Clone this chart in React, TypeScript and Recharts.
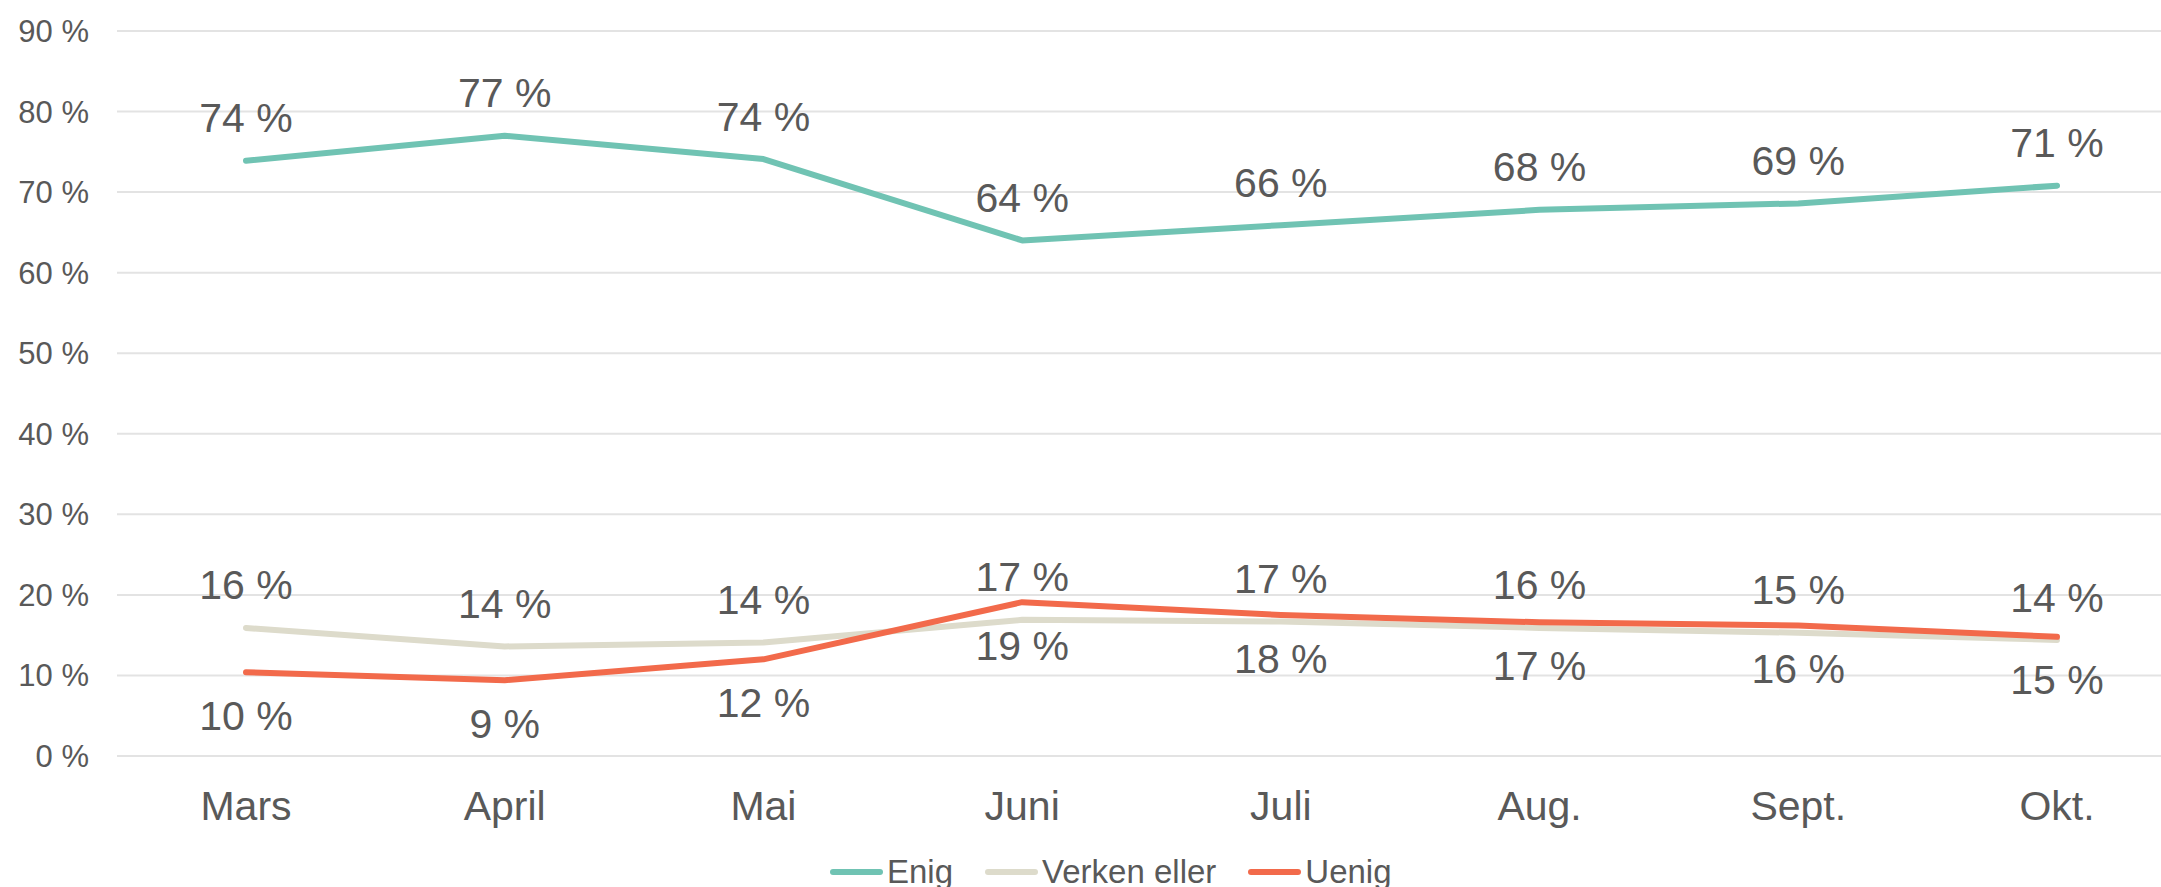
import { LineChart, Line, XAxis, YAxis, CartesianGrid } from "recharts";

const months = ["Mars", "April", "Mai", "Juni", "Juli", "Aug.", "Sept.", "Okt."];
const enig = [73.9, 77.0, 74.1, 64.0, 65.9, 67.8, 68.6, 70.8];
const verken = [15.9, 13.6, 14.1, 16.9, 16.7, 15.9, 15.3, 14.4];
const uenig = [10.4, 9.4, 12.0, 19.1, 17.5, 16.6, 16.2, 14.8];
const yTicks = [0, 10, 20, 30, 40, 50, 60, 70, 80, 90];

const series = [
  { key: "enig", name: "Enig", color: "#70C3B3", above: true },
  { key: "verken", name: "Verken eller", color: "#DDDBCB", above: true },
  { key: "uenig", name: "Uenig", color: "#F26A4B", above: false },
];

const data = months.map((m, i) => ({
  month: m,
  enig: enig[i],
  verken: verken[i],
  uenig: uenig[i],
}));

const FONT = "'Liberation Sans', Arial, sans-serif";
const TEXT = "#595959";

const makeLabel = (above: boolean) => (props: any) => {
  const { x, y, value } = props;
  const cy = above ? y - 43 : y + 43;
  return (
    <text
      x={x}
      y={cy}
      dy="0.355em"
      textAnchor="middle"
      fill={TEXT}
      fontSize={41}
      fontFamily={FONT}
    >
      {Math.round(value)} %
    </text>
  );
};

const App = () => {
  return (
    <div style={{ position: "absolute", left: 0, top: 0, width: 2161, height: 887, background: "#fff" }}>
      <LineChart
        width={2161}
        height={887}
        data={data}
        margin={{ top: 31, right: 0, bottom: 0, left: 0 }}
      >
        <CartesianGrid vertical={false} stroke="#E3E3E3" strokeWidth={2} />
        <XAxis
          dataKey="month"
          height={131}
          axisLine={false}
          tickLine={false}
          padding={{ left: 129, right: 104 }}
          tickMargin={29}
          tick={{ fill: TEXT, fontSize: 41, fontFamily: FONT }}
          interval={0}
        />
        <YAxis
          domain={[0, 90]}
          ticks={yTicks}
          width={117}
          axisLine={false}
          tickLine={false}
          tickMargin={22}
          tickFormatter={(v: number) => `${v} %`}
          tick={{ fill: TEXT, fontSize: 31, fontFamily: FONT }}
        />
        {series.map((s) => (
          <Line
            key={s.key}
            type="linear"
            dataKey={s.key}
            name={s.name}
            stroke={s.color}
            strokeWidth={6}
            strokeLinecap="round"
            strokeLinejoin="round"
            dot={false}
            activeDot={false}
            label={makeLabel(s.above)}
            isAnimationActive={false}
          />
        ))}
      </LineChart>
      <div
        style={{
          position: "absolute",
          left: 830,
          top: 855,
          height: 33,
          display: "flex",
          alignItems: "center",
          fontFamily: FONT,
          fontSize: 33,
          color: TEXT,
          whiteSpace: "nowrap",
        }}
      >
        {series.map((s) => (
          <div key={s.key} style={{ display: "flex", alignItems: "center", marginRight: 32 }}>
            <span
              style={{
                display: "inline-block",
                width: 53,
                height: 6,
                borderRadius: 3,
                background: s.color,
                marginRight: 4,
              }}
            />
            <span>{s.name}</span>
          </div>
        ))}
      </div>
    </div>
  );
};

export default App;
